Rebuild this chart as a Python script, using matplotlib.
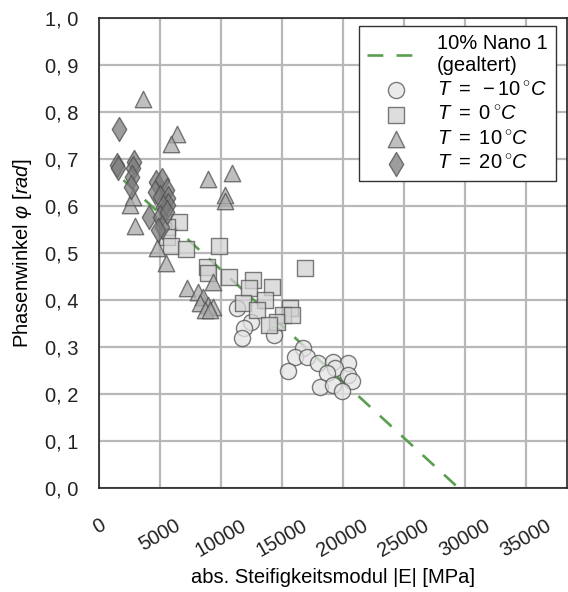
import matplotlib
matplotlib.use("Agg")
import matplotlib.pyplot as plt
from matplotlib.ticker import FuncFormatter

plt.rcParams['font.family'] = ['Liberation Sans', 'DejaVu Sans']
plt.rcParams['mathtext.fontset'] = 'custom'
plt.rcParams['mathtext.rm'] = 'Liberation Sans'
plt.rcParams['mathtext.it'] = 'Liberation Sans:italic'
plt.rcParams['mathtext.sf'] = 'Liberation Sans'

# ---- data ----
nano_x = [2000, 29500]
nano_y = [0.655, 0.0]

circ_x = [11300, 12450, 11900, 11700, 14350, 16700, 16050, 17050, 15500, 17950,
          19200, 20400, 19350, 18700, 20400, 20750, 18100, 19200, 19900]
circ_y = [0.383, 0.353, 0.340, 0.319, 0.326, 0.298, 0.279, 0.279, 0.249, 0.266,
          0.268, 0.266, 0.255, 0.245, 0.240, 0.228, 0.215, 0.219, 0.206]

sq_x = [6550, 5570, 5600, 5900, 7130, 9840, 8850, 8930, 10650, 12620, 12300,
        14180, 11800, 13600, 12950, 15650, 15080, 14590, 13930, 15820, 16880]
sq_y = [0.566, 0.555, 0.534, 0.515, 0.509, 0.515, 0.470, 0.457, 0.449, 0.443, 0.426,
        0.428, 0.394, 0.400, 0.379, 0.383, 0.368, 0.353, 0.347, 0.368, 0.468]

tri_x = [3600, 6390, 5900, 8930, 10900, 10330, 10330, 2540, 2800, 2950, 4750, 5490,
         7210, 8110, 8520, 8280, 8930, 9340, 8690, 9100, 9340]
tri_y = [0.828, 0.753, 0.732, 0.657, 0.670, 0.623, 0.611, 0.602, 0.620, 0.557, 0.511, 0.479,
         0.426, 0.417, 0.406, 0.394, 0.389, 0.385, 0.379, 0.379, 0.438]

dia_x = [1640, 1480, 1560, 2870, 2800, 2700, 2620, 4670, 5160, 4590, 5570, 5000,
         5650, 5650, 5250, 4100, 5000, 5160, 4840, 5570]
dia_y = [0.764, 0.687, 0.680, 0.694, 0.681, 0.662, 0.640, 0.651, 0.655, 0.630, 0.634, 0.619,
         0.617, 0.602, 0.598, 0.577, 0.577, 0.555, 0.549, 0.587]

x_ticks = [0, 5000, 10000, 15000, 20000, 25000, 30000, 35000]
y_ticks = [0.0, 0.1, 0.2, 0.3, 0.4, 0.5, 0.6, 0.7, 0.8, 0.9, 1.0]

labels = ["10% Nano 1\n(gealtert)",
          r"$T\ =\ -10\,^{\circ}C$",
          r"$T\ =\ 0\,^{\circ}C$",
          r"$T\ =\ 10\,^{\circ}C$",
          r"$T\ =\ 20\,^{\circ}C$"]

FS = 14.5

# ---- figure ----
fig = plt.figure(figsize=(5.68, 5.92), dpi=100)
ax = fig.add_axes([99/568, 1 - 488/592, 468/568, 470/592])

ax.set_xlim(0, 38400)
ax.set_ylim(0, 1.0)
ax.set_xticks(x_ticks)
ax.set_yticks(y_ticks)
ax.grid(True, color='#b8b8b8', linewidth=1.6, zorder=0)
ax.set_axisbelow(True)

ax.plot(nano_x, nano_y, linestyle=(0, (6, 5)), color='#5a9e50', linewidth=1.9,
        label=labels[0], zorder=2)

edge = '#505050'
ax.scatter(circ_x, circ_y, s=135, marker='o', facecolor='#e4e4e4', edgecolor=edge,
           linewidths=1.0, alpha=0.75, label=labels[1], zorder=3)
ax.scatter(sq_x, sq_y, s=130, marker='s', facecolor='#d2d2d2', edgecolor=edge,
           linewidths=1.0, alpha=0.75, label=labels[2], zorder=3)
ax.scatter(tri_x, tri_y, s=140, marker='^', facecolor='#aaaaaa', edgecolor=edge,
           linewidths=1.0, alpha=0.75, label=labels[3], zorder=3)
ax.scatter(dia_x, dia_y, s=150, marker='d', facecolor='#7c7c7c', edgecolor=edge,
           linewidths=1.0, alpha=0.75, label=labels[4], zorder=3)

ax.yaxis.set_major_formatter(FuncFormatter(lambda v, p: f"{v:.1f}".replace('.', ', ')))
ax.xaxis.set_major_formatter(FuncFormatter(lambda v, p: f"{int(v)}"))
ax.tick_params(axis='both', length=0, labelsize=FS, colors='#222222')
ax.tick_params(axis='y', pad=15)
ax.tick_params(axis='x', pad=20)
for t in ax.get_xticklabels():
    t.set_rotation(30)
    t.set_ha('center')
    t.set_va('top')

for s in ax.spines.values():
    s.set_color('#222222')
    s.set_linewidth(1.2)

ax.set_xlabel("abs. Steifigkeitsmodul |E| [MPa]", fontsize=FS, labelpad=6)
ax.set_ylabel(r"Phasenwinkel $\varphi$ $[rad]$", fontsize=FS, labelpad=8)

leg = ax.legend(loc='upper right', bbox_to_anchor=(457/468, 462/470), borderaxespad=0,
                fontsize=FS, frameon=True, fancybox=False, edgecolor='#333333',
                framealpha=1, handlelength=2.9, handletextpad=0.6,
                labelspacing=0.27, borderpad=0.4)
leg.get_frame().set_linewidth(1.0)

fig.savefig("out.png", dpi=100)
